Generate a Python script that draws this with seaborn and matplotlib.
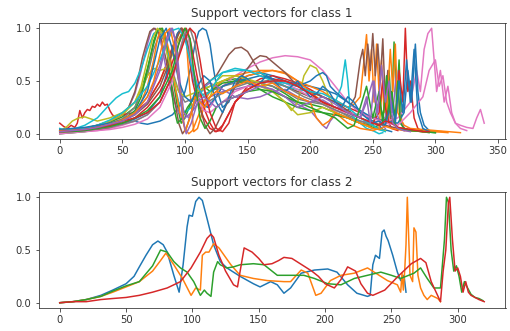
import numpy as np
import pandas as pd
import matplotlib
matplotlib.use("Agg")
import matplotlib.pyplot as plt
import seaborn as sns

# ---------------- data: class 1 support vectors ----------------
c1_x01 = [0,10,20,30,40,50,60,65,70,80,90,95,100,105,108,111,114,117,120,123,126,130,135,140,150,160,170,180,190,200,210,220,230,240,250,255,258,262,265]
c1_y01 = [0.03,0.04,0.05,0.06,0.08,0.10,0.12,0.10,0.09,0.12,0.18,0.25,0.40,0.65,0.85,0.97,1.0,0.98,0.85,0.6,0.4,0.25,0.3,0.45,0.55,0.58,0.55,0.50,0.47,0.45,0.42,0.38,0.30,0.20,0.12,0.08,0.04,0.03,0.02]

c1_x02 = [0,10,20,30,40,50,60,70,80,85,90,95,98,101,104,107,110,115,120,130,140,150,160,170,180,190,200,210,220,230,235,240,243,245,247,249,251,253,255,257,259,261,263,266,270,280,290,300,305]
c1_y02 = [0.02,0.03,0.05,0.07,0.10,0.14,0.20,0.30,0.50,0.65,0.82,0.95,1.0,0.9,0.4,0.02,0.05,0.25,0.35,0.45,0.50,0.55,0.58,0.60,0.58,0.50,0.45,0.40,0.32,0.25,0.28,0.35,0.7,0.94,0.5,0.8,0.3,0.85,0.4,0.7,0.2,0.5,0.1,0.15,0.06,0.04,0.03,0.02,0.02]

c1_x03 = [0,10,20,30,40,50,60,65,70,75,78,80,83,86,90,94,97,100,105,110,120,130,140,150,160,170,180,190,200,210,220,230,240,250,255,260,263,265,267,269,271,273,275,280,290,295]
c1_y03 = [0.01,0.02,0.04,0.07,0.11,0.16,0.25,0.40,0.62,0.85,0.97,1.0,0.95,0.80,0.55,0.25,0.10,0.15,0.30,0.40,0.45,0.50,0.52,0.50,0.48,0.45,0.38,0.30,0.28,0.25,0.20,0.15,0.10,0.08,0.3,0.1,0.6,0.2,0.87,0.3,0.7,0.1,0.05,0.03,0.02,0.01]

c1_x04 = [0,3,6,9,12,14,16,18,20,22,24,26,28,30,32,34,36,38,40,42,45,50,60,70,80,85,90,94,97,100,103,106,110,115,120,125,130,140,150,160,170,180,190,200,210,220,230,240,250,260,265,268,271,274,276,278,280,283,286,290]
c1_y04 = [0.1,0.07,0.05,0.08,0.06,0.10,0.22,0.15,0.20,0.23,0.22,0.26,0.25,0.28,0.26,0.30,0.27,0.28,0.22,0.18,0.15,0.18,0.20,0.30,0.50,0.65,0.82,0.95,1.0,0.95,0.75,0.5,0.3,0.15,0.05,0.02,0.08,0.30,0.45,0.52,0.55,0.52,0.48,0.42,0.35,0.30,0.25,0.20,0.15,0.12,0.30,0.15,0.6,0.3,1.0,0.4,0.5,0.15,0.05,0.02]

c1_x05 = [0,10,20,30,40,50,55,60,65,70,73,76,79,82,86,90,95,100,105,110,120,130,140,150,160,170,180,190,200,205,210,213,216,220,230,240,250,260,263,266,269,272,275]
c1_y05 = [0.02,0.03,0.05,0.08,0.12,0.18,0.25,0.38,0.60,0.85,0.97,1.0,0.95,0.8,0.55,0.35,0.20,0.15,0.20,0.28,0.35,0.40,0.42,0.45,0.45,0.42,0.35,0.28,0.22,0.15,0.08,0.05,0.12,0.18,0.15,0.12,0.10,0.15,0.4,0.2,0.6,0.15,0.05]

c1_x06 = [0,10,20,30,40,50,55,60,63,66,69,72,75,78,81,84,88,92,95,98,101,105,110,115,120,125,130,135,140,145,150,155,160,170,180,190,200,210,220,230,236,240,242,244,246,248,250,252,254,256,258,260,262,264,266,270,275]
c1_y06 = [0.02,0.03,0.05,0.08,0.12,0.18,0.25,0.40,0.55,0.72,0.85,0.97,1.0,0.98,0.9,0.75,0.55,0.3,0.1,0.0,0.05,0.2,0.35,0.45,0.5,0.55,0.65,0.75,0.81,0.82,0.78,0.68,0.58,0.50,0.45,0.40,0.35,0.30,0.25,0.22,0.35,0.70,0.80,0.55,0.85,0.60,0.95,0.55,0.85,0.5,0.9,0.3,0.6,0.15,0.1,0.05,0.03]

c1_x07 = [0,10,20,30,40,50,60,70,80,90,95,100,105,110,115,120,125,130,140,150,160,170,180,190,200,210,220,230,240,250,260,270,280,285,288,291,294,297,299,301,304,307,310,313,316,320,325,330,333,336,339]
c1_y07 = [0.0,0.01,0.02,0.03,0.05,0.08,0.12,0.18,0.30,0.55,0.75,0.90,0.70,0.45,0.30,0.25,0.35,0.45,0.55,0.62,0.68,0.72,0.74,0.73,0.70,0.60,0.45,0.30,0.20,0.15,0.12,0.15,0.3,0.6,0.4,0.8,0.95,1.0,0.7,0.4,0.6,0.3,0.45,0.2,0.1,0.08,0.06,0.05,0.15,0.23,0.10]

c1_x08 = [0,10,20,30,40,50,60,70,75,80,85,90,95,100,110,120,130,140,150,160,170,180,190,200,210,220,230,240,250,255]
c1_y08 = [0.02,0.03,0.04,0.06,0.09,0.14,0.25,0.55,0.80,0.95,0.85,0.6,0.4,0.3,0.35,0.40,0.45,0.48,0.50,0.48,0.45,0.40,0.33,0.30,0.28,0.22,0.18,0.12,0.08,0.05]

c1_x09 = [0,5,10,15,20,25,30,40,50,60,70,75,80,85,90,95,100,103,106,110,115,120,125,130,140,150,160,170,180,185,190,195,200,205,210,215,220,230,240,250,255,260]
c1_y09 = [0.03,0.06,0.12,0.15,0.16,0.14,0.12,0.15,0.20,0.30,0.55,0.62,0.60,0.62,0.75,0.90,1.0,0.9,0.6,0.40,0.30,0.35,0.50,0.55,0.55,0.52,0.45,0.40,0.30,0.22,0.30,0.55,0.65,0.62,0.5,0.35,0.2,0.15,0.1,0.06,0.04,0.03]

c1_x10 = [0,5,10,20,30,40,45,50,55,60,65,70,75,80,85,90,95,100,105,110,120,130,140,150,160,170,180,190,200,210,220,225,228,230,232,235,240,245,250,255,258]
c1_y10 = [0.05,0.03,0.04,0.08,0.15,0.28,0.34,0.38,0.40,0.48,0.62,0.80,0.95,0.99,0.85,0.55,0.3,0.2,0.25,0.35,0.5,0.58,0.6,0.6,0.58,0.52,0.45,0.42,0.40,0.35,0.30,0.45,0.7,0.5,0.2,0.15,0.1,0.05,0.03,0.0,0.01]

c1_x11 = [0,10,20,30,40,50,60,70,80,85,90,94,97,100,103,107,112,118,125,130,140,150,160,170,180,190,200,205,210,213,216,220,230,240,250,260,270,275,278,281,284,286,288,291,295,300]
c1_y11 = [0.02,0.02,0.03,0.05,0.07,0.10,0.14,0.20,0.35,0.55,0.80,0.95,1.0,0.95,0.8,0.5,0.3,0.25,0.35,0.45,0.50,0.52,0.55,0.52,0.48,0.45,0.50,0.55,0.58,0.55,0.45,0.40,0.3,0.22,0.15,0.12,0.10,0.2,0.6,0.3,0.85,0.4,0.2,0.08,0.03,0.02]

c1_x12 = [0,10,20,30,40,50,60,65,70,75,78,81,84,88,92,96,100,103,106,110,115,120,130,140,150,160,170,180,190,200,210,220,230,240,250,255,258,261,264,266,268,270,272,275,280,290,300,310,320]
c1_y12 = [0.01,0.02,0.03,0.05,0.08,0.12,0.20,0.30,0.45,0.70,0.90,1.0,0.95,0.75,0.45,0.2,0.05,0.0,0.03,0.15,0.30,0.40,0.50,0.55,0.58,0.60,0.60,0.57,0.50,0.40,0.30,0.20,0.10,0.05,0.03,0.05,0.5,0.2,0.8,0.4,0.85,0.2,0.15,0.08,0.05,0.04,0.03,0.02,0.01]

c1_x13 = [0,10,20,30,40,50,60,65,70,75,78,82,85,88,91,94,98,102,108,115,120,130,140,150,160,170,180,190,200,210,220,230,240,250,260,265,268,270,272,275,280,290,300]
c1_y13 = [0.0,0.01,0.02,0.04,0.07,0.12,0.22,0.35,0.60,0.88,0.98,1.0,0.85,0.55,0.25,0.10,0.15,0.25,0.35,0.45,0.40,0.48,0.50,0.48,0.42,0.35,0.30,0.25,0.22,0.20,0.18,0.15,0.10,0.06,0.1,0.4,0.15,0.5,0.1,0.05,0.03,0.02,0.01]

c1_x14 = [0,10,20,30,40,50,60,70,80,85,90,95,98,101,104,108,112,116,120,124,128,132,140,150,160,170,180,190,200,210,220,230,240,250,255,258,260,263,265,270]
c1_y14 = [0.02,0.02,0.03,0.04,0.06,0.10,0.15,0.25,0.40,0.52,0.68,0.85,0.98,1.0,0.9,0.65,0.4,0.22,0.1,0.02,0.03,0.12,0.30,0.42,0.48,0.52,0.50,0.45,0.38,0.30,0.25,0.20,0.15,0.10,0.2,0.5,0.25,0.1,0.05,0.03]

c1_x15 = [0,10,20,30,40,50,60,70,75,80,84,87,90,93,96,99,103,108,115,120,130,140,150,160,170,180,190,200,210,220,230,240,245,250,253,256,260]
c1_y15 = [0.02,0.03,0.04,0.06,0.09,0.13,0.20,0.35,0.48,0.65,0.85,0.97,1.0,0.85,0.5,0.2,0.15,0.3,0.45,0.48,0.42,0.35,0.33,0.35,0.40,0.42,0.35,0.30,0.32,0.25,0.20,0.15,0.3,0.5,0.2,0.1,0.05]

c1_x16 = [0,10,20,30,40,50,60,70,80,85,90,94,97,100,104,108,112,116,120,124,130,140,150,155,160,165,170,180,190,200,210,220,230,240,250,260,270,280]
c1_y16 = [0.02,0.02,0.03,0.05,0.08,0.12,0.18,0.28,0.45,0.60,0.78,0.92,1.0,0.95,0.75,0.5,0.25,0.08,0.0,0.05,0.2,0.45,0.62,0.70,0.74,0.73,0.68,0.58,0.45,0.40,0.35,0.30,0.22,0.15,0.10,0.08,0.05,0.03]

c1_x17 = [0,10,20,30,40,50,60,70,80,90,95,100,103,106,110,115,120,130,140,150,160,170,180,190,200,210,220,230,240,250,260,270,280,290,295,300,303,306,309,312,316,320,325]
c1_y17 = [0.0,0.01,0.02,0.03,0.04,0.06,0.09,0.14,0.25,0.50,0.75,0.98,0.9,0.6,0.35,0.22,0.2,0.3,0.4,0.45,0.48,0.50,0.48,0.42,0.35,0.28,0.22,0.20,0.18,0.15,0.1,0.08,0.2,0.35,0.6,0.7,0.45,0.55,0.3,0.2,0.1,0.05,0.03]

c1_x18 = [0,20,40,60,70,80,90,95,100,104,108,112,118,125,135,150,165,180,195,210,225,240,250]
c1_y18 = [0.02,0.03,0.06,0.12,0.18,0.30,0.55,0.75,0.95,1.0,0.85,0.55,0.3,0.35,0.42,0.48,0.50,0.45,0.35,0.28,0.2,0.1,0.05]

c1_x19 = [0,10,20,30,40,50,60,65,70,74,78,82,86,90,95,100,110,120,130,140,150,160,170,180,190,200,210,220,230,240,250]
c1_y19 = [0.02,0.03,0.05,0.08,0.12,0.18,0.30,0.45,0.70,0.90,1.0,0.95,0.75,0.55,0.4,0.35,0.4,0.45,0.5,0.55,0.52,0.48,0.4,0.3,0.18,0.2,0.25,0.2,0.15,0.1,0.05]

c1_x20 = [0,10,20,30,40,50,60,70,80,85,90,95,100,105,110,115,120,125,130,140,150,160,170,180,190,200,210,220,230,240,250,255,260]
c1_y20 = [0.02,0.03,0.05,0.08,0.13,0.20,0.30,0.45,0.70,0.85,0.98,1.0,0.9,0.65,0.45,0.35,0.4,0.5,0.58,0.62,0.60,0.55,0.50,0.48,0.45,0.40,0.38,0.32,0.25,0.15,0.08,0.04,0.02]

c1_x21 = [0,10,20,30,40,50,60,70,75,80,85,90,95,100,105,110,115,120,125,130,135,140,145,150,155,160,165,170,175,180,185,190,195,200,205,210,215,220,225,230,235,240,245,250,255,260,265,268,271,274,277,280,283,286,290,295]
c1_y21 = [0.04,0.05,0.06,0.08,0.10,0.13,0.2,0.4,0.65,0.9,1.0,0.8,0.5,0.35,0.3,0.45,0.55,0.5,0.3,0.2,0.35,0.5,0.55,0.52,0.45,0.48,0.55,0.52,0.45,0.4,0.45,0.5,0.42,0.35,0.38,0.45,0.4,0.3,0.25,0.35,0.3,0.2,0.15,0.1,0.12,0.08,0.3,0.1,0.5,0.2,0.7,0.3,0.8,0.2,0.05,0.02]

c1_x22 = [0,10,20,30,40,50,60,70,75,80,84,88,92,96,100,104,108,112,116,120,125,130,140,150,160,170,180,190,200,205,210,215,220,230,240,245,250,255,260,265,270,275,280,290,300,310]
c1_y22 = [0.03,0.03,0.04,0.06,0.09,0.13,0.20,0.35,0.5,0.75,0.95,1.0,0.8,0.4,0.02,0.15,0.35,0.3,0.25,0.35,0.4,0.38,0.45,0.5,0.45,0.48,0.4,0.35,0.3,0.15,0.08,0.12,0.2,0.15,0.1,0.08,0.05,0.04,0.07,0.05,0.04,0.03,0.03,0.02,0.02,0.01]

c1_x23 = [0,10,20,30,40,50,60,70,80,90,95,100,104,108,112,116,120,125,130,140,150,160,170,180,190,200,210,220,225,230,235,240,245,250,255,258,261,264,267,270,275,280,290,300]
c1_y23 = [0.02,0.02,0.03,0.05,0.07,0.1,0.15,0.22,0.35,0.6,0.85,1.0,0.9,0.5,0.15,0.05,0.12,0.25,0.3,0.35,0.4,0.42,0.4,0.35,0.3,0.25,0.2,0.15,0.1,0.05,0.08,0.25,0.45,0.15,0.4,0.1,0.55,0.2,0.1,0.05,0.04,0.03,0.02,0.01]

c1_x24 = [0,10,20,30,40,50,60,70,80,90,100,104,108,112,116,120,125,130,135,140,150,160,170,180,190,200,210,220,230,240,250,255,260,265,270,275,280,285,290,295]
c1_y24 = [0.02,0.03,0.04,0.06,0.08,0.12,0.15,0.2,0.3,0.55,0.9,1.0,0.95,0.7,0.4,0.2,0.05,0.02,0.1,0.3,0.42,0.48,0.5,0.5,0.45,0.38,0.3,0.25,0.2,0.15,0.1,0.08,0.12,0.1,0.06,0.05,0.04,0.03,0.02,0.02]

c1_x25 = [0,10,20,30,40,50,60,70,80,85,89,92,95,98,101,105,110,115,120,125,130,140,150,160,170,180,190,200,210,220,230,240,245,248,251,254,257,260,263,266,270,275,280]
c1_y25 = [0.02,0.03,0.04,0.06,0.09,0.12,0.18,0.3,0.6,0.85,1.0,0.9,0.5,0.15,0.0,0.1,0.3,0.35,0.3,0.25,0.3,0.35,0.4,0.45,0.42,0.35,0.25,0.3,0.35,0.28,0.2,0.15,0.35,0.1,0.5,0.2,0.65,0.3,0.5,0.1,0.05,0.03,0.02]

class1_x = [c1_x01, c1_x02, c1_x03, c1_x04, c1_x05, c1_x06, c1_x07, c1_x08, c1_x09, c1_x10,
            c1_x11, c1_x12, c1_x13, c1_x14, c1_x15, c1_x16, c1_x17, c1_x18, c1_x19, c1_x20,
            c1_x21, c1_x22, c1_x23, c1_x24, c1_x25]
class1_y = [c1_y01, c1_y02, c1_y03, c1_y04, c1_y05, c1_y06, c1_y07, c1_y08, c1_y09, c1_y10,
            c1_y11, c1_y12, c1_y13, c1_y14, c1_y15, c1_y16, c1_y17, c1_y18, c1_y19, c1_y20,
            c1_y21, c1_y22, c1_y23, c1_y24, c1_y25]

# ---------------- data: class 2 support vectors ----------------
c2_x1 = [0,10,20,31,40,50,56,60,65,70,74,78,81,86,90,93,96,97.5,100,102.5,105,107.5,111,116,121,126,136,146,151,159,164,169,174,182,192,202,209,217,224,232,234,236,238,241,243,244.5,246,247.5,251,254.5,257,259.5,261]
c2_y1 = [0.0,0.01,0.03,0.07,0.12,0.18,0.25,0.34,0.45,0.55,0.585,0.55,0.48,0.26,0.10,0.36,0.72,0.83,0.82,0.96,1.0,0.97,0.80,0.55,0.39,0.33,0.25,0.18,0.15,0.20,0.17,0.09,0.14,0.28,0.31,0.32,0.29,0.17,0.09,0.06,0.07,0.36,0.45,0.42,0.67,0.69,0.63,0.59,0.45,0.29,0.21,0.26,0.10]

c2_x2 = [0,10,20,31,40,50,60,70,76,80,86,92.5,99,102.5,106,107.5,110,112.5,116,120,129,136,146,156.5,169,174,182,187,193,197,204,212,222,232,237,247,254.5,257,258,259,260,261,262,264,266,267,268.5,270,272,274.5,277,280,285,287]
c2_y2 = [0.0,0.01,0.03,0.06,0.10,0.15,0.20,0.30,0.40,0.47,0.36,0.23,0.07,0.14,0.12,0.45,0.48,0.48,0.56,0.52,0.36,0.26,0.23,0.21,0.20,0.20,0.31,0.28,0.07,0.09,0.21,0.26,0.28,0.33,0.29,0.21,0.17,0.10,0.28,0.12,0.30,0.55,1.0,0.26,0.20,0.71,0.67,0.26,0.14,0.07,0.03,0.07,0.04,0.01]

c2_x3 = [0,10,20,31,40,50,60,70,76,81,86,91,96,101,106,109,111,114,116,119,121,126,131,136,146,154,164,174,184,192,202,212,222,232,242,250,257,267,272,277,282,287,290,291.5,293,295,297,299,301,303,305,307,310,313,316,319]
c2_y3 = [0.0,0.01,0.03,0.06,0.11,0.16,0.20,0.35,0.50,0.48,0.39,0.33,0.29,0.20,0.07,0.12,0.09,0.06,0.29,0.39,0.36,0.33,0.34,0.36,0.37,0.36,0.26,0.26,0.26,0.23,0.18,0.17,0.23,0.26,0.29,0.26,0.23,0.28,0.33,0.23,0.14,0.14,0.60,1.0,0.95,0.50,0.30,0.35,0.25,0.10,0.20,0.15,0.08,0.05,0.04,0.02]

c2_x4 = [0,10,20,31,40,50,60,70,81,91,99,106,111,114,116,120,125,131,134,136,139,142,145,150,154,160,165,169,175,180,185,190,195,200,207,212,217,223,227,232,236,245,255,265,272,276,280,287,289,291,293,294,296,298,300,302,304,306,308,310,313,316,320]
c2_y4 = [0.0,0.01,0.01,0.03,0.04,0.05,0.07,0.10,0.14,0.20,0.33,0.48,0.61,0.65,0.62,0.45,0.30,0.17,0.15,0.30,0.52,0.50,0.48,0.42,0.36,0.37,0.40,0.43,0.42,0.38,0.34,0.30,0.25,0.18,0.14,0.22,0.34,0.30,0.18,0.09,0.07,0.12,0.25,0.37,0.42,0.38,0.20,0.01,0.30,0.50,0.95,1.0,0.60,0.30,0.33,0.25,0.10,0.20,0.10,0.07,0.05,0.03,0.01]

class2_x = [c2_x1, c2_x2, c2_x3, c2_x4]
class2_y = [c2_y1, c2_y2, c2_y3, c2_y4]

titles = ["Support vectors for class 1", "Support vectors for class 2"]
xticks_top = [0, 50, 100, 150, 200, 250, 300, 350]
xticks_bottom = [0, 50, 100, 150, 200, 250, 300]
yticks = [0.0, 0.5, 1.0]


def to_long(xs, ys):
    frames = []
    for i, (x, y) in enumerate(zip(xs, ys)):
        frames.append(pd.DataFrame({"x": x, "y": y, "series": f"s{i:02d}"}))
    return pd.concat(frames, ignore_index=True)


df1 = to_long(class1_x, class1_y)
df2 = to_long(class2_x, class2_y)

tab10 = sns.color_palette("tab10", 10)
pal1 = [tab10[i % 10] for i in range(len(class1_x))]
pal2 = [tab10[i % 10] for i in range(len(class2_x))]

plt.rcParams.update({
    "font.family": ["DejaVu Sans"],
    "font.size": 10,
    "axes.titlesize": 12,
    "axes.edgecolor": "0.2",
    "xtick.color": "0.2",
    "ytick.color": "0.2",
    "text.color": "0.2",
    "axes.labelcolor": "0.2",
})

fig = plt.figure(figsize=(510 / 72, 331 / 72), dpi=72)
ax1 = fig.add_axes([38.5 / 510, (331 - 139) / 331, 467 / 510, 116 / 331])
ax2 = fig.add_axes([38.5 / 510, (331 - 308) / 331, 467 / 510, 116 / 331])

sns.lineplot(data=df1, x="x", y="y", hue="series", palette=pal1, estimator=None,
             sort=False, legend=False, linewidth=1.5, ax=ax1)
sns.lineplot(data=df2, x="x", y="y", hue="series", palette=pal2, estimator=None,
             sort=False, legend=False, linewidth=1.5, ax=ax2)

for ax, title, xt in [(ax1, titles[0], xticks_top), (ax2, titles[1], xticks_bottom)]:
    ax.set_title(title, color="0.2")
    ax.set_xlabel("")
    ax.set_ylabel("")
    ax.set_yticks(yticks)
    ax.set_yticklabels([f"{v:.1f}" for v in yticks])
    ax.set_xticks(xt)

ax1.set_xlim(-17, 356)
ax2.set_xlim(-16, 336)
ax1.set_ylim(-0.05, 1.05)
ax2.set_ylim(-0.05, 1.05)

fig.savefig("out.png", dpi=72)
